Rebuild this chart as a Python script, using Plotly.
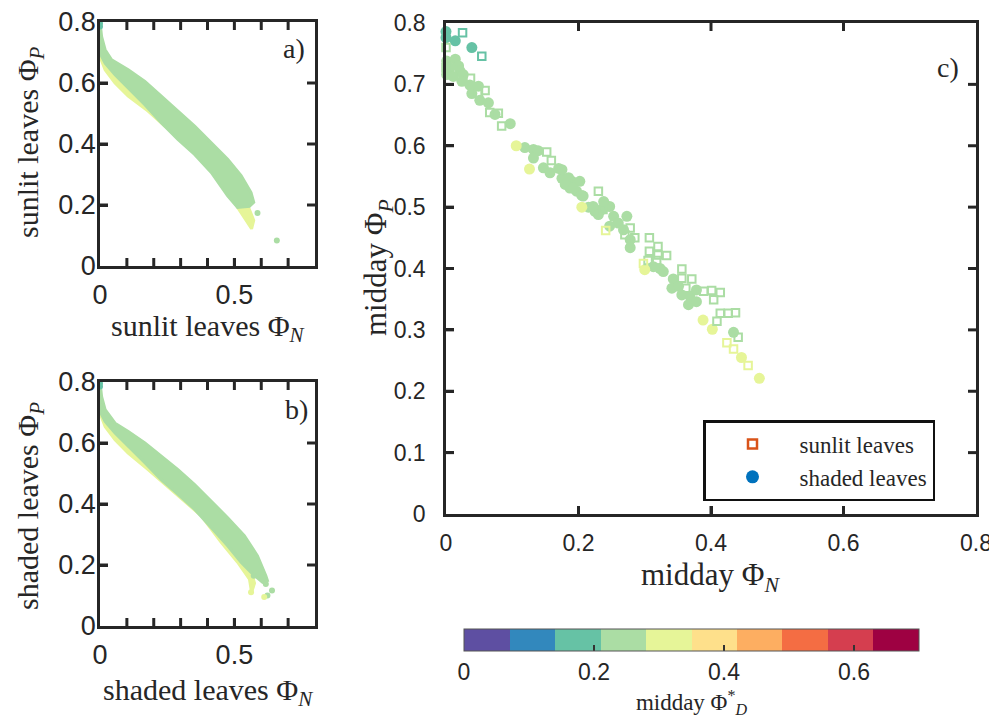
import plotly.graph_objects as go

W, H = 997, 719
OFF = 8  # page body margin of the html page
SANS = "Liberation Sans"
SERIF = "Liberation Serif"
AX = "#262626"

# ---------------- colour scale: midday Phi_D* (10 bins over 0..0.7) ----------------
phiD_bin_colors = ["#5e4fa2", "#3288bd", "#66c2a5", "#abdda4", "#e6f598",
                   "#fee08b", "#fdae61", "#f46d43", "#d53e4f", "#9e0142"]
phiD_range = [0.0, 0.7]
phiD_tick_step = 0.2

# ---------------- panel a: sunlit leaves (dense point cloud outlines) ----------------
a_green_phiD = 0.25
a_green_edge_x = [0.000, 0.006, 0.019, 0.043, 0.105, 0.167, 0.228, 0.290, 0.352, 0.414, 0.475, 0.525, 0.562, 0.572,
                  0.556, 0.512, 0.475, 0.414, 0.352, 0.290, 0.228, 0.167, 0.105, 0.056, 0.019, 0.000]
a_green_edge_y = [0.800, 0.752, 0.709, 0.676, 0.643, 0.605, 0.557, 0.508, 0.459, 0.404, 0.350, 0.296, 0.241, 0.209,
                  0.196, 0.192, 0.230, 0.307, 0.366, 0.415, 0.470, 0.529, 0.584, 0.627, 0.665, 0.698]
a_yellow_phiD = 0.31
a_yellow_edge_x = [0.000, 0.019, 0.056, 0.105, 0.179, 0.241, 0.302, 0.377, 0.451, 0.500, 0.543, 0.564, 0.572,
                   0.540, 0.480, 0.420, 0.350, 0.280, 0.200, 0.120, 0.050, 0.010, 0.000]
a_yellow_edge_y = [0.687, 0.643, 0.600, 0.557, 0.508, 0.459, 0.421, 0.361, 0.274, 0.209, 0.154, 0.122, 0.150,
                   0.220, 0.280, 0.340, 0.400, 0.450, 0.520, 0.600, 0.650, 0.690, 0.720]
a_dots_x = [0.000, 0.000, 0.586, 0.658]
a_dots_y = [0.795, 0.785, 0.174, 0.084]
a_dots_phiD = [0.18, 0.18, 0.25, 0.25]

# ---------------- panel b: shaded leaves ----------------
b_green_phiD = 0.25
b_green_edge_x = [0.000, 0.006, 0.019, 0.056, 0.105, 0.167, 0.228, 0.290, 0.352, 0.414, 0.475, 0.537, 0.586, 0.617, 0.623,
                  0.605, 0.562, 0.525, 0.475, 0.414, 0.352, 0.290, 0.228, 0.167, 0.105, 0.056, 0.019, 0.000]
b_green_edge_y = [0.800, 0.752, 0.709, 0.665, 0.638, 0.600, 0.557, 0.513, 0.464, 0.410, 0.355, 0.296, 0.230, 0.165, 0.149,
                  0.143, 0.176, 0.209, 0.263, 0.323, 0.383, 0.432, 0.480, 0.535, 0.589, 0.633, 0.671, 0.703]
b_yellow_phiD = 0.31
b_yellow_edge_x = [0.000, 0.019, 0.056, 0.105, 0.179, 0.278, 0.377, 0.451, 0.512, 0.556, 0.564,
                   0.575, 0.550, 0.500, 0.440, 0.380, 0.300, 0.200, 0.120, 0.050, 0.010, 0.000]
b_yellow_edge_y = [0.698, 0.654, 0.611, 0.567, 0.513, 0.437, 0.361, 0.274, 0.209, 0.154, 0.111,
                   0.140, 0.220, 0.250, 0.330, 0.390, 0.460, 0.520, 0.600, 0.650, 0.690, 0.720]
b_dots_x = [0.000, 0.000, 0.572, 0.617, 0.640, 0.623, 0.611, 0.562]
b_dots_y = [0.795, 0.785, 0.165, 0.138, 0.116, 0.100, 0.095, 0.111]
b_dots_phiD = [0.18, 0.18, 0.25, 0.25, 0.25, 0.25, 0.31, 0.31]

# ---------------- panel c: midday values ----------------
shaded_x = [0.000, 0.000, 0.014, 0.039,
            0.001, 0.014, 0.019, 0.006, 0.021, 0.001, 0.011, 0.026, 0.024, 0.036, 0.049, 0.039, 0.051, 0.064, 0.074, 0.097,
            0.119, 0.132, 0.139, 0.132, 0.147, 0.157, 0.170, 0.175, 0.190, 0.202, 0.187, 0.197, 0.207, 0.215, 0.225,
            0.175, 0.185, 0.180, 0.192, 0.205,
            0.222, 0.235, 0.247, 0.238, 0.230, 0.253, 0.273, 0.260, 0.247, 0.268, 0.278, 0.278,
            0.313, 0.323, 0.328,
            0.343, 0.341, 0.351, 0.356, 0.368, 0.366, 0.378, 0.378,
            0.434,
            0.106, 0.126, 0.205, 0.300, 0.388, 0.402, 0.446, 0.473]
shaded_y = [0.786, 0.776, 0.771, 0.760,
            0.738, 0.741, 0.730, 0.727, 0.722, 0.716, 0.713, 0.716, 0.705, 0.699, 0.697, 0.685, 0.674, 0.670, 0.651, 0.636,
            0.597, 0.594, 0.592, 0.580, 0.564, 0.556, 0.563, 0.547, 0.542, 0.542, 0.531, 0.526, 0.518, 0.500, 0.493,
            0.561, 0.548, 0.537, 0.531, 0.519,
            0.501, 0.496, 0.501, 0.509, 0.488, 0.485, 0.485, 0.474, 0.469, 0.463, 0.447, 0.434,
            0.403, 0.400, 0.395,
            0.383, 0.368, 0.371, 0.357, 0.355, 0.341, 0.346, 0.365,
            0.296,
            0.600, 0.562, 0.500, 0.398, 0.316, 0.301, 0.255, 0.221]
shaded_phiD = [0.18] * 4 + [0.25] * 60 + [0.31] * 8

sunlit_x = [0.025, 0.054,
            0.000, 0.000, 0.037, 0.059, 0.049, 0.066, 0.079, 0.084, 0.152, 0.159, 0.230, 0.237, 0.278, 0.285, 0.270,
            0.307, 0.320, 0.307, 0.320, 0.333, 0.305, 0.318, 0.356, 0.356, 0.371, 0.362, 0.389, 0.401, 0.414, 0.404,
            0.414, 0.426, 0.437, 0.409, 0.441,
            0.241, 0.298, 0.424, 0.434, 0.456]
sunlit_y = [0.784, 0.746,
            0.760, 0.727, 0.710, 0.690, 0.685, 0.654, 0.653, 0.632, 0.590, 0.576, 0.526, 0.496, 0.466, 0.450, 0.455,
            0.450, 0.436, 0.428, 0.422, 0.421, 0.413, 0.413, 0.399, 0.384, 0.383, 0.368, 0.363, 0.364, 0.361, 0.349,
            0.327, 0.327, 0.328, 0.314, 0.288,
            0.462, 0.408, 0.279, 0.269, 0.242]
sunlit_phiD = [0.18] * 2 + [0.25] * 35 + [0.31] * 5

# axis tick steps (labels come from the axes' own linear ticks)
axis_max = 0.8
ab_x_label_step, ab_x_tick_step = 0.5, 0.1
ab_y_step = 0.2
c_x_step = 0.2
c_y_step = 0.1


def bin_color(v):
    i = int(v / (phiD_range[1] / len(phiD_bin_colors)))
    return phiD_bin_colors[max(0, min(i, len(phiD_bin_colors) - 1))]


colorscale = []
n = len(phiD_bin_colors)
for i, c in enumerate(phiD_bin_colors):
    colorscale.append([i / n, c])
    colorscale.append([(i + 1) / n, c])


def px_x(p):
    return (p - OFF) / W


def px_y(p):
    return 1 - (p - OFF) / H


fig = go.Figure()

# panels a and b
for xa, ya, gx, gy, gphi, yx, yy, yphi, dx, dy, dphi in [
    ("x", "y", a_green_edge_x, a_green_edge_y, a_green_phiD, a_yellow_edge_x, a_yellow_edge_y, a_yellow_phiD,
     a_dots_x, a_dots_y, a_dots_phiD),
    ("x2", "y2", b_green_edge_x, b_green_edge_y, b_green_phiD, b_yellow_edge_x, b_yellow_edge_y, b_yellow_phiD,
     b_dots_x, b_dots_y, b_dots_phiD),
]:
    fig.add_trace(go.Scatter(x=yx, y=yy, xaxis=xa, yaxis=ya, mode="lines", fill="toself",
                             fillcolor=bin_color(yphi), line=dict(color=bin_color(yphi), width=3),
                             showlegend=False, hoverinfo="skip"))
    fig.add_trace(go.Scatter(x=gx, y=gy, xaxis=xa, yaxis=ya, mode="lines", fill="toself",
                             fillcolor=bin_color(gphi), line=dict(color=bin_color(gphi), width=3),
                             showlegend=False, hoverinfo="skip"))
    fig.add_trace(go.Scatter(x=dx, y=dy, xaxis=xa, yaxis=ya, mode="markers",
                             marker=dict(size=6, color=dphi, coloraxis="coloraxis"),
                             showlegend=False, cliponaxis=False))

# panel c
fig.add_trace(go.Scatter(x=shaded_x, y=shaded_y, xaxis="x3", yaxis="y3", mode="markers",
                         marker=dict(symbol="circle", size=11, color=shaded_phiD, coloraxis="coloraxis"),
                         showlegend=False, cliponaxis=False))
fig.add_trace(go.Scatter(x=sunlit_x, y=sunlit_y, xaxis="x3", yaxis="y3", mode="markers",
                         marker=dict(symbol="square-open", size=7.5, color=sunlit_phiD, coloraxis="coloraxis",
                                     line=dict(width=2)),
                         showlegend=False, cliponaxis=False))
# legend entries
fig.add_trace(go.Scatter(x=[None], y=[None], xaxis="x3", yaxis="y3", mode="markers", name="sunlit leaves",
                         marker=dict(symbol="square-open", size=9, color="#D95319", line=dict(width=2.5))))
fig.add_trace(go.Scatter(x=[None], y=[None], xaxis="x3", yaxis="y3", mode="markers", name="shaded leaves",
                         marker=dict(symbol="circle", size=13, color="#0072BD")))

TL, TW = 8, 3


def axis(domain, rng, step, fsize, anchor, standoff=None):
    d = dict(domain=domain, range=rng, tickmode="linear", tick0=0, dtick=step, anchor=anchor,
             showline=True, linecolor=AX, linewidth=2.5, mirror=True, ticks="inside",
             ticklen=TL, tickwidth=TW, tickcolor=AX, showgrid=False, zeroline=False,
             tickfont=dict(family=SANS, size=fsize, color=AX), ticklabeloverflow="allow")
    if standoff is not None:
        d["ticklabelstandoff"] = standoff
    return d


# panel geometry (screen px): left, right, top, bottom
panel_a = (100, 315, 22, 266)
panel_b = (100, 315, 382, 626)
panel_c = (446, 976, 23, 514)

fig.update_layout(
    width=W, height=H, margin=dict(l=0, r=0, t=0, b=0, autoexpand=False),
    paper_bgcolor="white", plot_bgcolor="white",
    xaxis=axis([px_x(panel_a[0]), px_x(panel_a[1])], [0, axis_max], ab_x_label_step, 27, "y", 3),
    yaxis=axis([px_y(panel_a[3]), px_y(panel_a[2])], [0, axis_max], ab_y_step, 27, "x", -4),
    xaxis2=axis([px_x(panel_b[0]), px_x(panel_b[1])], [0, axis_max], ab_x_label_step, 27, "y2", 3),
    yaxis2=axis([px_y(panel_b[3]), px_y(panel_b[2])], [0, axis_max], ab_y_step, 27, "x2", -4),
    xaxis3=axis([px_x(panel_c[0]), px_x(panel_c[1])], [0, axis_max], c_x_step, 23, "y3", 7),
    yaxis3=axis([px_y(panel_c[3]), px_y(panel_c[2])], [0, axis_max], c_y_step, 23, "x3", 13),
    coloraxis=dict(
        cmin=phiD_range[0], cmax=phiD_range[1], colorscale=colorscale,
        colorbar=dict(orientation="h", x=px_x((464 + 919) / 2), xanchor="center",
                      y=px_y(629), yanchor="top", len=(919 - 464) / W, lenmode="fraction",
                      thickness=22, xpad=0, ypad=0, outlinewidth=1, outlinecolor="#555",
                      tickmode="linear", tick0=0, dtick=phiD_tick_step, ticks="inside", ticklen=6,
                      tickwidth=1.5, tickcolor="#333", tickfont=dict(family=SANS, size=23, color=AX),
                      title=dict(text="midday Φ<sup>*</sup><sub><i>D</i></sub>", side="bottom",
                                 font=dict(family=SERIF, size=23, color=AX)))),
    legend=dict(x=px_x(703), y=px_y(420), xanchor="left", yanchor="top",
                bordercolor="#111", borderwidth=2.5, bgcolor="white",
                font=dict(family=SERIF, size=23, color=AX), itemwidth=84, tracegroupgap=0),
)

# inward tick marks on all four sides of each box, placed through the axes' own scales
shapes = []
for (xa, ya, geom, xstep, ystep) in [("x", "y", panel_a, ab_x_tick_step, ab_y_step),
                                     ("x2", "y2", panel_b, ab_x_tick_step, ab_y_step),
                                     ("x3", "y3", panel_c, c_x_step, c_y_step)]:
    wpx = geom[1] - geom[0]
    hpx = geom[3] - geom[2]
    fx = TL / wpx
    fy = TL / hpx
    nx = int(round(axis_max / xstep))
    ny = int(round(axis_max / ystep))
    for k in range(1, nx):
        v = k * xstep
        for y0, y1 in [(0, fy), (1 - fy, 1)]:
            shapes.append(dict(type="line", xref=xa, yref=ya + " domain", x0=v, x1=v, y0=y0, y1=y1,
                               line=dict(color=AX, width=TW), layer="above"))
    for k in range(1, ny):
        v = k * ystep
        for x0, x1 in [(0, fx), (1 - fx, 1)]:
            shapes.append(dict(type="line", xref=xa + " domain", yref=ya, x0=x0, x1=x1, y0=v, y1=v,
                               line=dict(color=AX, width=TW), layer="above"))
fig.update_layout(shapes=shapes)

ann = [
    # (text, x_px, y_px, size, angle)
    ("sunlit leaves Φ<sub><i>N</i></sub>", 208, 328, 30, 0),
    ("sunlit leaves Φ<sub><i>P</i></sub>", 30, 142, 30, -90),
    ("shaded leaves Φ<sub><i>N</i></sub>", 208, 692, 30, 0),
    ("shaded leaves Φ<sub><i>P</i></sub>", 30, 506, 30, -90),
    ("midday Φ<sub><i>N</i></sub>", 710, 577, 31, 0),
    ("midday Φ<sub><i>P</i></sub>", 378, 268, 31, -90),
    ("a)", 294, 49, 28, 0),
    ("b)", 296, 410, 28, 0),
    ("c)", 948, 67, 28, 0),
]
for t, x, y, s, a in ann:
    fig.add_annotation(text=t, x=px_x(x), y=px_y(y), xref="paper", yref="paper", showarrow=False,
                       xanchor="center", yanchor="middle", textangle=a,
                       font=dict(family=SERIF, size=s, color=AX))

fig.write_html("out.html")
